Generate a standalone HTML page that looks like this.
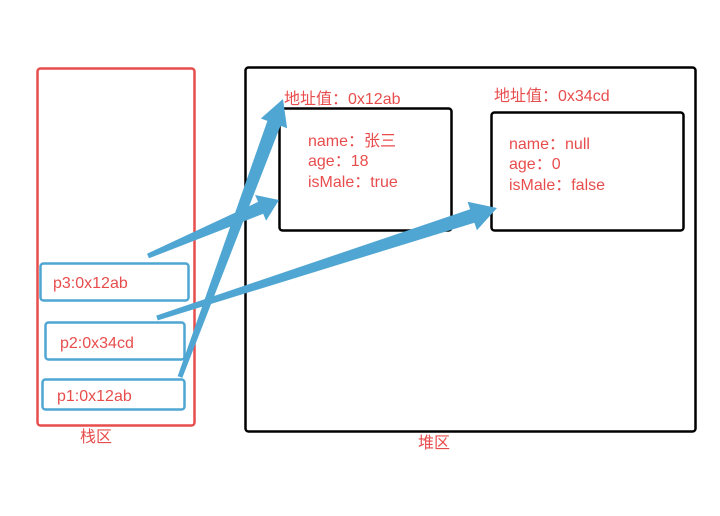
<!DOCTYPE html>
<html><head><meta charset="utf-8"><style>
html,body{margin:0;padding:0;background:#fff;}
body{width:720px;height:516px;overflow:hidden;position:relative;font-family:"Liberation Sans","Noto Sans CJK SC",sans-serif;}
</style></head><body>
<svg id="s" width="720" height="516" xmlns="http://www.w3.org/2000/svg" style="position:absolute;left:0;top:0">
<rect x="37.5" y="68.5" width="157" height="357" rx="3" fill="none" stroke="#e84d4d" stroke-width="2.5"/>
<rect x="245.5" y="67.5" width="450" height="364" rx="3" fill="none" stroke="#000" stroke-width="2.5"/>
<rect x="279.5" y="108.5" width="172" height="122" rx="3" fill="none" stroke="#000" stroke-width="2.5"/>
<rect x="491.5" y="112.5" width="192" height="118" rx="3" fill="none" stroke="#000" stroke-width="2.5"/>
<rect x="40.5" y="263.5" width="148" height="37" rx="3" fill="none" stroke="#4fa6d3" stroke-width="2.5"/>
<rect x="45.5" y="322.5" width="139" height="37" rx="3" fill="none" stroke="#4fa6d3" stroke-width="2.5"/>
<rect x="42.5" y="379.5" width="142" height="30" rx="3" fill="none" stroke="#4fa6d3" stroke-width="2.5"/>
<g fill="#e84d4d" font-size="16">
<text x="53" y="288">p3:0x12ab</text>
<text x="60" y="348">p2:0x34cd</text>
<text x="57" y="401">p1:0x12ab</text>
<text x="80" y="442">栈区</text>
<text x="418" y="448">堆区</text>
<text x="284" y="104">地址值：0x12ab</text>
<text x="494" y="101">地址值：0x34cd</text>
<text x="308" y="146">name：张三</text>
<text x="308" y="166">age：18</text>
<text x="308" y="187">isMale：true</text>
<text x="509" y="149">name：null</text>
<text x="509" y="169">age：0</text>
<text x="509" y="190">isMale：false</text>
</g>
<g id="arrows" fill="#4fa6d3"></g>
</svg>
<script>
function arrow(x1,y1,x2,y2,w1,w2,hl,hw){
 var dx=x2-x1,dy=y2-y1,L=Math.hypot(dx,dy),ux=dx/L,uy=dy/L,nx=-uy,ny=ux;
 var bx=x2-ux*hl,by=y2-uy*hl;
 var p=[[x1+nx*w1/2,y1+ny*w1/2],[bx+nx*w2/2,by+ny*w2/2],[bx+nx*hw/2,by+ny*hw/2],[x2,y2],[bx-nx*hw/2,by-ny*hw/2],[bx-nx*w2/2,by-ny*w2/2],[x1-nx*w1/2,y1-ny*w1/2]];
 var e=document.createElementNS("http://www.w3.org/2000/svg","polygon");
 e.setAttribute("points",p.map(function(q){return q[0].toFixed(1)+","+q[1].toFixed(1)}).join(" "));
 document.getElementById("arrows").appendChild(e);
}
arrow(180,377,283,99,5,14,26,28);
arrow(148,256,279,200,5,13,20,28);
arrow(157,318,497,208,5,14,26,30);
</script>
</body></html>
